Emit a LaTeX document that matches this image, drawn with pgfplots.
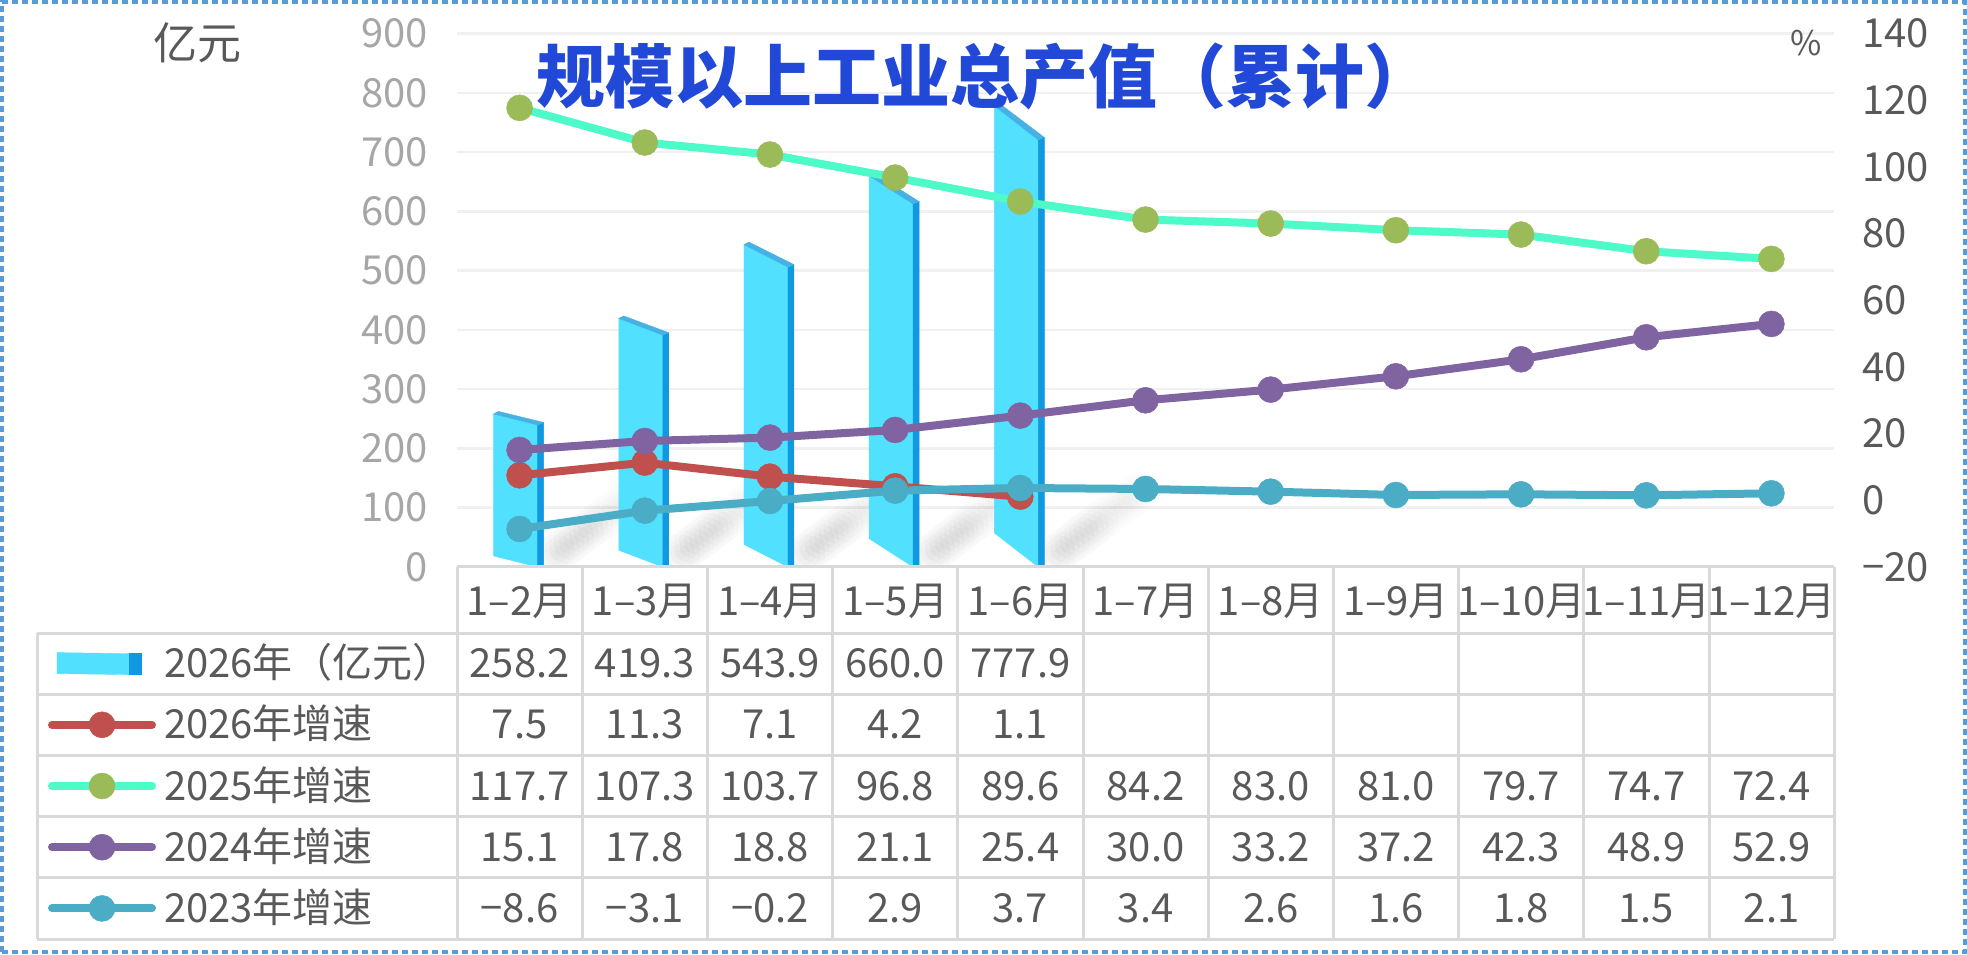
\documentclass[border=0pt]{standalone}
\usepackage{pgfplots}
\pgfplotsset{compat=1.18}
\usepackage{pgfplotstable}
\usepackage{fontspec}
\usepackage{xstring}
\setmainfont{Noto Sans CJK SC}
\definecolor{txt}{RGB}{89,89,89}
\definecolor{tickgray}{RGB}{166,166,166}
\definecolor{titleblue}{RGB}{33,72,215}
\definecolor{gridc}{RGB}{240,240,240}
\definecolor{tablec}{RGB}{217,217,217}
\definecolor{borderc}{RGB}{91,155,213}
\definecolor{barfront}{RGB}{82,224,255}
\definecolor{barside}{RGB}{16,152,224}
\definecolor{bartop}{RGB}{70,178,228}
\definecolor{c26}{RGB}{192,80,77}
\definecolor{c25}{RGB}{77,250,200}
\definecolor{c25m}{RGB}{155,187,89}
\definecolor{c24}{RGB}{128,100,162}
\definecolor{c23}{RGB}{75,172,198}

\pgfplotstableread{
x v g
0 258.2 7.5
1 419.3 11.3
2 543.9 7.1
3 660.0 4.2
4 777.9 1.1
}\curyear

\pgfplotstableread{
x g25 g24 g23
0 117.7 15.1 -8.6
1 107.3 17.8 -3.1
2 103.7 18.8 -0.2
3 96.8 21.1 2.9
4 89.6 25.4 3.7
5 84.2 30.0 3.4
6 83.0 33.2 2.6
7 81.0 37.2 1.6
8 79.7 42.3 1.8
9 74.7 48.9 1.5
10 72.4 52.9 2.1
}\prevyears

\newcommand\bigfont{\fontsize{40pt}{44pt}\selectfont}
\newcommand\cellval[3]{\pgfplotstablegetelem{#2}{#3}\of#1\StrSubstitute{\pgfplotsretval}{-}{−}}
\pgfdeclareplotmark{nothing}{}

\begin{document}
\begin{tikzpicture}
\useasboundingbox (0pt,0pt) rectangle (1967pt,954pt);
\begin{axis}[
  at={(457pt,387pt)}, anchor=south west,
  scale only axis, width=1377pt, height=533.5pt,
  xmin=-0.5, xmax=10.5, ymin=0, ymax=900,
  xtick=\empty,
  ytick={0,100,...,900},
  yticklabels={0,100,200,300,400,500,600,700,800,900},
  yticklabel style={font=\bigfont, text=tickgray, inner sep=0pt, xshift=-29pt},
  ymajorgrids, grid style={gridc, line width=2.5pt},
  axis line style={draw=none}, major tick length=0pt,
  clip marker paths=true,
]
\addplot[scatter, only marks, mark=nothing,
  visualization depends on={rawy \as \barv},
  visualization depends on={rawx \as \barx},
  scatter/@pre marker code/.code={%
    \begingroup
    \pgfkeys{/pgf/fpu=true, /pgf/fpu/output format=fixed}%
    \pgfmathsetmacro\bh{\barv*533.5/900}%
    \pgfmathsetmacro\bs{11+5.76*\barx}%
    \pgfmathsetmacro\bb{\bs-\bh}%
    \pgfmathsetmacro\bt{2.5-\bs}%
    \pgfmathsetmacro\bsh{4-\bh}%
    \pgfkeys{/pgf/fpu=false}%
    % soft shadow cast toward the upper right
    \foreach \d in {14,20,...,134}{%
      \pgfmathsetmacro\op{0.011*(1-\d/150)}%
      \foreach \r in {5,10,15,20}{%
        \fill[black, opacity=\op] (24pt+0.8*\d pt,\bsh pt+0.6*\d pt) circle[radius=\r pt];}}
    \fill[barfront] (-26pt,0pt) -- (18pt,-\bs pt) -- (18pt,-\bh pt) -- (-26pt,\bb pt) -- cycle;
    \fill[barside] (18pt,-\bs pt) -- (24pt,\bt pt) -- (24pt,-\bh pt) -- (18pt,-\bh pt) -- cycle;
    \fill[bartop] (-26pt,0pt) -- (-21pt,2.5pt) -- (24pt,\bt pt) -- (18pt,-\bs pt) -- cycle;
    \endgroup},
  scatter/@post marker code/.code={},
] table[x=x, y=v] {\curyear};
\end{axis}
\begin{axis}[
  at={(457pt,387pt)}, anchor=south west,
  scale only axis, width=1377pt, height=533.5pt,
  xmin=-0.5, xmax=10.5, ymin=-20, ymax=140,
  xtick=\empty,
  ytick={-20,0,...,140},
  yticklabels={−20,0,20,40,60,80,100,120,140},
  yticklabel pos=right,
  yticklabel style={font=\bigfont, text=txt, inner sep=0pt, xshift=28pt},
  axis line style={draw=none}, major tick length=0pt,
  legend image code/.code={\draw[mark repeat=2,mark phase=2,line cap=round,#1] plot coordinates {(0pt,0pt) (50pt,0pt) (100pt,0pt)};},
  legend style={at={(-0.297,-0.1492)}, anchor=north west, draw=none, fill=none,
    inner sep=0pt, outer sep=0pt, row sep=27.2pt, column sep=8pt,
    font=\bigfont, text=txt, cells={anchor=west},
    nodes={text height=31pt, text depth=3pt, inner sep=0pt}},
]
\addlegendimage{legend image code/.code={%
  \fill[barfront] (5pt,-10pt) -- (5pt,11pt) -- (77pt,10pt) -- (77pt,-11pt) -- cycle;
  \fill[barside] (77pt,-11pt) rectangle (89pt,10pt);
  \path[draw=none] (0pt,0pt) -- (100pt,0pt);}}
\addlegendentry{2026年（亿元）}
\addplot[c26, line width=8pt, line join=round, mark=*, mark size=13pt,
  mark options={fill=c26, draw=c26, line width=0.5pt}] table[x=x, y=g] {\curyear};
\addlegendentry{2026年增速}
\addplot[c25, line width=8pt, line join=round, mark=*, mark size=13pt,
  mark options={fill=c25m, draw=c25m, line width=0.5pt}] table[x=x, y=g25] {\prevyears};
\addlegendentry{2025年增速}
\addplot[c24, line width=8pt, line join=round, mark=*, mark size=13pt,
  mark options={fill=c24, draw=c24, line width=0.5pt}] table[x=x, y=g24] {\prevyears};
\addlegendentry{2024年增速}
\addplot[c23, line width=8pt, line join=round, mark=*, mark size=13pt,
  mark options={fill=c23, draw=c23, line width=0.5pt}] table[x=x, y=g23] {\prevyears};
\addlegendentry{2023年增速}
\end{axis}
\begin{scope}[x=1pt, y=1pt]
  % table grid
  \draw[tablec, line width=3pt] (457,387) -- (1834,387);
  \foreach \yy in {633,694.2,755.4,816.6,877.8,939}
    \draw[tablec, line width=3pt] (37,954-\yy) -- (1834,954-\yy);
  \foreach \k in {0,...,11}
    \draw[tablec, line width=3pt] (457+125.2*\k,387) -- (457+125.2*\k,15);
  \draw[tablec, line width=3pt] (37,321) -- (37,15);
  % header
  \foreach \m [count=\i from 0] in {2,...,12}
    \node[anchor=base, font=\bigfont, text=txt, inner sep=0pt] at (519.6+125.2*\i,338) {1–{\m}月};
  \foreach \i in {0,...,4} {
    \node[anchor=base, font=\bigfont, text=txt, inner sep=0pt] at (519.6+125.2*\i,276.4) {\cellval\curyear{\i}{v}};
    \node[anchor=base, font=\bigfont, text=txt, inner sep=0pt] at (519.6+125.2*\i,215.2) {\cellval\curyear{\i}{g}};
  }
  \foreach \i in {0,...,10} {
    \node[anchor=base, font=\bigfont, text=txt, inner sep=0pt] at (519.6+125.2*\i,154) {\cellval\prevyears{\i}{g25}};
    \node[anchor=base, font=\bigfont, text=txt, inner sep=0pt] at (519.6+125.2*\i,92.8) {\cellval\prevyears{\i}{g24}};
    \node[anchor=base, font=\bigfont, text=txt, inner sep=0pt] at (519.6+125.2*\i,31.6) {\cellval\prevyears{\i}{g23}};
  }
  % titles
  \node[font=\fontsize{69pt}{73pt}\selectfont\bfseries, text=titleblue, inner sep=0pt] at (985,877) {规模以上工业总产值（累计）};
  \node[font=\fontsize{44pt}{48pt}\selectfont, text=txt, inner sep=0pt] at (197,911) {亿元};
  \node[font=\fontsize{34pt}{38pt}\selectfont, text=txt, inner sep=0pt] at (1806,911) {\%};
  % border
  \draw[borderc, line width=4pt, dash pattern=on 6pt off 4pt] (2,2) rectangle (1965,952);
\end{scope}
\end{tikzpicture}
\end{document}
